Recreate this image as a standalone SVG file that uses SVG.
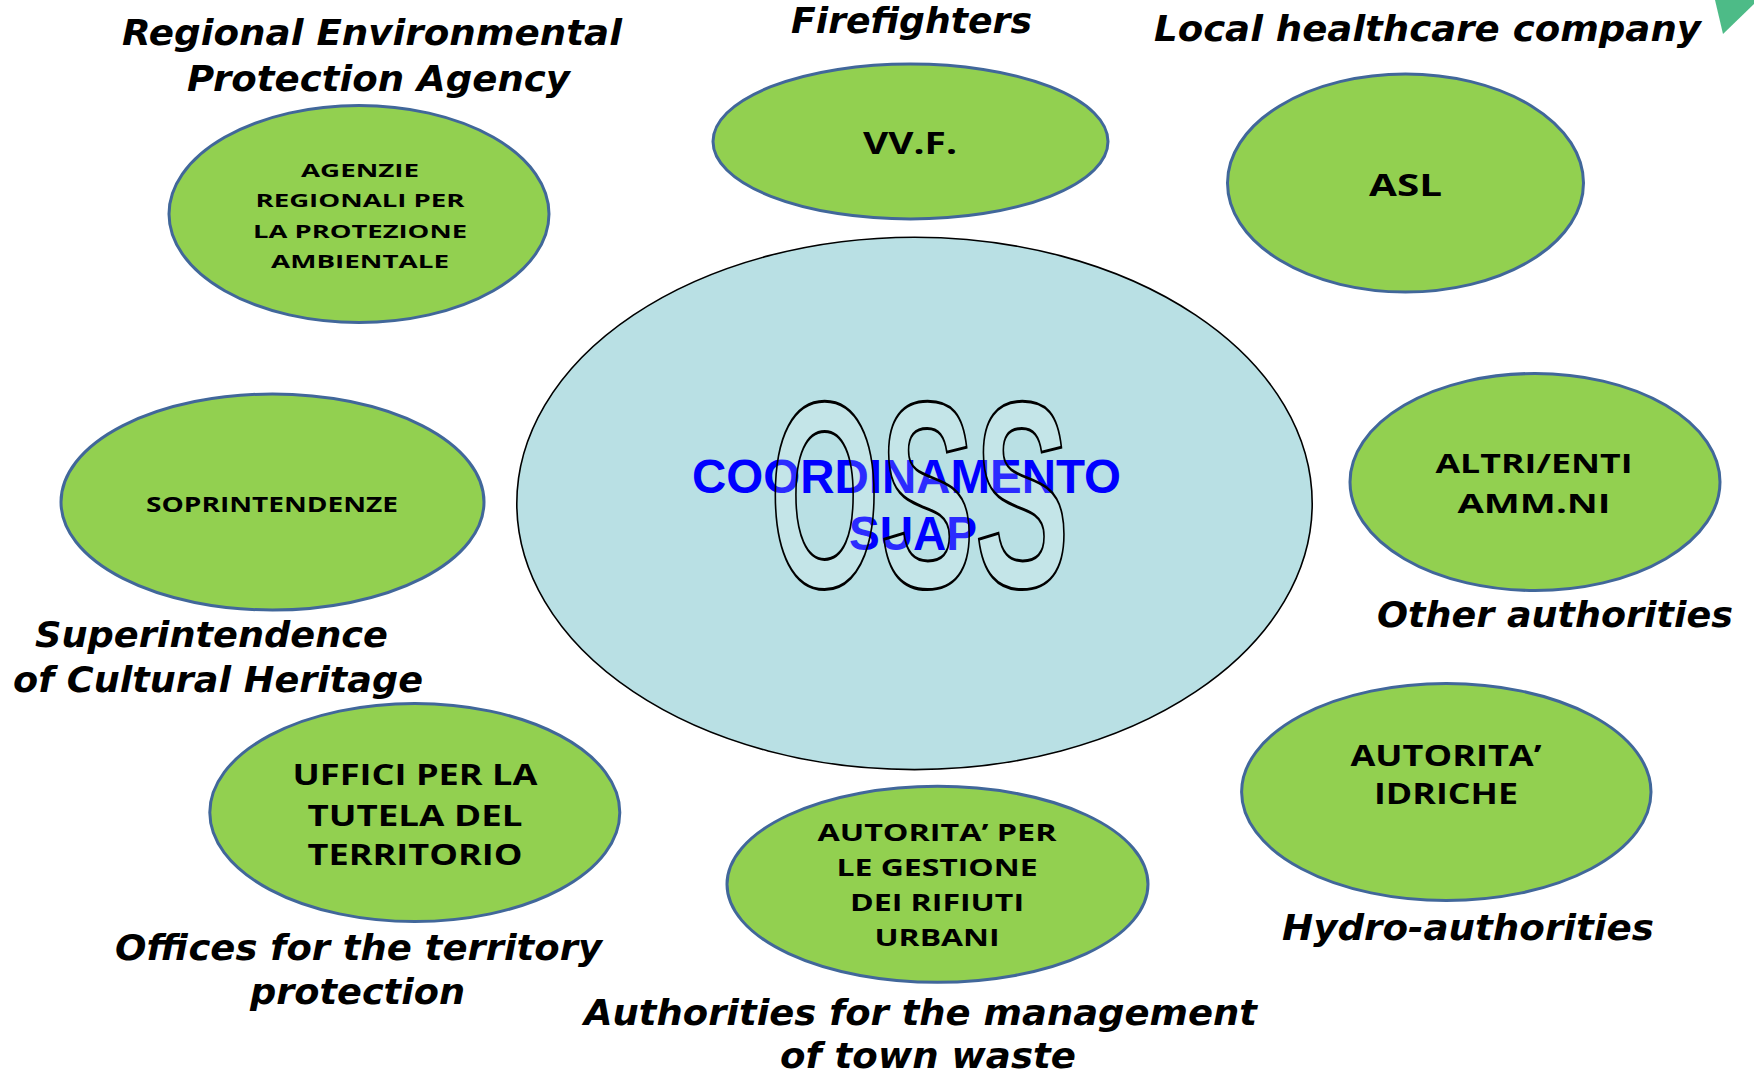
<svg xmlns="http://www.w3.org/2000/svg" width="1754" height="1073" viewBox="0 0 1754 1073">
<style>
.node{fill:#92d050;stroke:#41679a;stroke-width:3}
.nt{font-family:"Open Sans","Liberation Sans",sans-serif;font-weight:bold;fill:#000;text-anchor:middle}
.lbl{font-family:"DejaVu Sans","Verdana",sans-serif;font-weight:bold;font-style:italic;font-size:36px;fill:#000;text-anchor:middle}
.ctr{font-family:"Liberation Sans",Arial,sans-serif;font-weight:bold;fill:#0000ff;text-anchor:middle;font-size:48px}
</style>
<rect width="1754" height="1073" fill="#ffffff"/>
<polygon points="1715,0 1754,0 1754,4 1723,34" fill="#4dbb87"/>
<g id="connectors"></g>
<g id="center">
<ellipse cx="914.5" cy="503.4" rx="397.7" ry="266.2" fill="#b9e0e4" stroke="#000" stroke-width="1.6"/>
<text class="ctr" x="906.5" y="493" textLength="429" lengthAdjust="spacingAndGlyphs">COORDINAMENTO</text>
<text class="ctr" x="913" y="550" textLength="128" lengthAdjust="spacingAndGlyphs">SUAP</text>
<text x="919.5" y="587" font-family="Liberation Sans,Arial,sans-serif" font-weight="bold" font-size="266" text-anchor="middle" textLength="300" lengthAdjust="spacingAndGlyphs" fill="#ffffff" fill-opacity="0.17" stroke="#000" stroke-width="3">OSS</text>
</g>
<g id="node-arpa">
<ellipse class="node" cx="359" cy="214" rx="190" ry="108.5"/>
<text class="nt" font-size="18" x="360" y="177" textLength="118" lengthAdjust="spacingAndGlyphs">AGENZIE</text>
<text class="nt" font-size="18" x="360" y="207" textLength="209" lengthAdjust="spacingAndGlyphs">REGIONALI PER</text>
<text class="nt" font-size="18" x="360" y="238" textLength="214" lengthAdjust="spacingAndGlyphs">LA PROTEZIONE</text>
<text class="nt" font-size="18" x="360" y="268" textLength="178" lengthAdjust="spacingAndGlyphs">AMBIENTALE</text>
</g>
<g id="node-vvf">
<ellipse class="node" cx="910.5" cy="141.5" rx="197.5" ry="77.5"/>
<text class="nt" font-size="31" x="910" y="154" textLength="94" lengthAdjust="spacingAndGlyphs">VV.F.</text>
</g>
<g id="node-asl">
<ellipse class="node" cx="1405.5" cy="183" rx="178" ry="109"/>
<text class="nt" font-size="31" x="1405.5" y="196" textLength="73" lengthAdjust="spacingAndGlyphs">ASL</text>
</g>
<g id="node-sopr">
<ellipse class="node" cx="272.5" cy="502" rx="211.5" ry="108"/>
<text class="nt" font-size="22" x="272" y="512" textLength="252" lengthAdjust="spacingAndGlyphs">SOPRINTENDENZE</text>
</g>
<g id="node-altri">
<ellipse class="node" cx="1535" cy="482" rx="185" ry="108.5"/>
<text class="nt" font-size="26" x="1534" y="473" textLength="197" lengthAdjust="spacingAndGlyphs">ALTRI/ENTI</text>
<text class="nt" font-size="26" x="1534" y="513" textLength="153" lengthAdjust="spacingAndGlyphs">AMM.NI</text>
</g>
<g id="node-uffici">
<ellipse class="node" cx="414.8" cy="812.5" rx="205" ry="109"/>
<text class="nt" font-size="28" x="415" y="785" textLength="245" lengthAdjust="spacingAndGlyphs">UFFICI PER LA</text>
<text class="nt" font-size="28" x="415" y="826" textLength="215" lengthAdjust="spacingAndGlyphs">TUTELA DEL</text>
<text class="nt" font-size="28" x="415" y="865" textLength="215" lengthAdjust="spacingAndGlyphs">TERRITORIO</text>
</g>
<g id="node-rifiuti">
<ellipse class="node" cx="937.5" cy="884.3" rx="210.5" ry="98"/>
<text class="nt" font-size="24" x="937" y="841" textLength="239" lengthAdjust="spacingAndGlyphs">AUTORITA’ PER</text>
<text class="nt" font-size="24" x="937" y="876" textLength="201" lengthAdjust="spacingAndGlyphs">LE GESTIONE</text>
<text class="nt" font-size="24" x="937" y="911" textLength="174" lengthAdjust="spacingAndGlyphs">DEI RIFIUTI</text>
<text class="nt" font-size="24" x="937" y="946" textLength="125" lengthAdjust="spacingAndGlyphs">URBANI</text>
</g>
<g id="node-idriche">
<ellipse class="node" cx="1446.3" cy="792" rx="204.7" ry="108.5"/>
<text class="nt" font-size="28" x="1446" y="766" textLength="191" lengthAdjust="spacingAndGlyphs">AUTORITA’</text>
<text class="nt" font-size="28" x="1446" y="804" textLength="144" lengthAdjust="spacingAndGlyphs">IDRICHE</text>
</g>
<g id="labels">
<text class="lbl" font-size="38" x="372" y="45" textLength="500" lengthAdjust="spacingAndGlyphs">Regional Environmental</text>
<text class="lbl" font-size="38" x="378.5" y="91" textLength="383" lengthAdjust="spacingAndGlyphs">Protection Agency</text>
<text class="lbl" font-size="38" x="911.5" y="33" textLength="241" lengthAdjust="spacingAndGlyphs">Firefighters</text>
<text class="lbl" font-size="38" x="1427.5" y="41" textLength="547" lengthAdjust="spacingAndGlyphs">Local healthcare company</text>
<text class="lbl" x="211.5" y="647" textLength="353" lengthAdjust="spacingAndGlyphs">Superintendence</text>
<text class="lbl" x="218" y="692" textLength="410" lengthAdjust="spacingAndGlyphs">of Cultural Heritage</text>
<text class="lbl" x="1555" y="627" textLength="356" lengthAdjust="spacingAndGlyphs">Other authorities</text>
<text class="lbl" x="1468" y="940" textLength="372" lengthAdjust="spacingAndGlyphs">Hydro-authorities</text>
<text class="lbl" x="358.5" y="960" textLength="487" lengthAdjust="spacingAndGlyphs">Offices for the territory</text>
<text class="lbl" x="357.5" y="1004" textLength="215" lengthAdjust="spacingAndGlyphs">protection</text>
<text class="lbl" x="920.5" y="1025" textLength="673" lengthAdjust="spacingAndGlyphs">Authorities for the management</text>
<text class="lbl" x="928" y="1068" textLength="296" lengthAdjust="spacingAndGlyphs">of town waste</text>
</g>
</svg>
